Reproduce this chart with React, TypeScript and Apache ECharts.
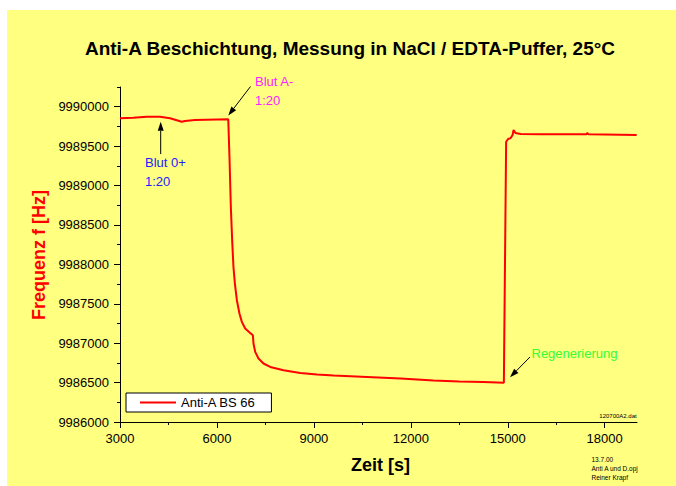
import React, { useEffect, useRef } from "react";
import * as echarts from "echarts";

// ---------- data ----------
const timeS = [
  3000, 3410, 3830, 4240, 4550, 4910, 5010, 5320, 6350, 6388, 6430, 6471,
  6511, 6555, 6617, 6697, 6771, 6874, 7029, 7112, 7131, 7184, 7286, 7441,
  7649, 8061, 8578, 9096, 9611, 10128, 11680, 12700, 13500, 14250, 14880,
  14950, 15010, 15090, 15150, 15180, 15240, 15400, 16020, 17440, 17460,
  17500, 18990,
];
const freqHz = [
  9989853, 9989860, 9989873, 9989873, 9989853, 9989809, 9989818, 9989831,
  9989840, 9989365, 9988730, 9988307, 9987968, 9987757, 9987545, 9987376,
  9987270, 9987186, 9987130, 9987101, 9986996, 9986889, 9986805, 9986742,
  9986698, 9986656, 9986622, 9986602, 9986589, 9986580, 9986551, 9986525,
  9986515, 9986508, 9986497, 9989555, 9989590, 9989602, 9989641, 9989704,
  9989666, 9989653, 9989649, 9989649, 9989666, 9989649, 9989641,
];
const xMajorTicks = [3000, 6000, 9000, 12000, 15000, 18000];
const xMinorTicks = [4500, 7500, 10500, 13500, 16500];
const yMajorTicks = [
  9986000, 9986500, 9987000, 9987500, 9988000, 9988500, 9989000, 9989500,
  9990000,
];
const yMinorTicks = [
  9986250, 9986750, 9987250, 9987750, 9988250, 9988750, 9989250, 9989750,
  9990250,
];
const xRange = [3000, 19000];
const yRange = [9986000, 9990250];

const seriesName = "Anti-A BS 66";
const titleText = "Anti-A Beschichtung, Messung in NaCl / EDTA-Puffer, 25°C";
const xAxisName = "Zeit [s]";
const yAxisName = "Frequenz f [Hz]";
const noteBlut0 = ["Blut 0+", "1:20"];
const noteBlutA = ["Blut A-", "1:20"];
const noteRegen = "Regenerierung";
const fileNote = "120700A2.dat";
const footNotes = ["13.7.00", "Anti A und D.opj", "Reiner Krapf"];

const FONT = '"Liberation Sans", Arial, Helvetica, sans-serif';

function arrow(x1: number, y1: number, x2: number, y2: number) {
  const dx = x2 - x1;
  const dy = y2 - y1;
  const len = Math.sqrt(dx * dx + dy * dy);
  const ux = dx / len;
  const uy = dy / len;
  const headLen = 9;
  const halfW = 3;
  const bx = x2 - ux * headLen;
  const by = y2 - uy * headLen;
  const px = -uy * halfW;
  const py = ux * halfW;
  return [
    {
      type: "line",
      shape: { x1, y1, x2: bx, y2: by },
      style: { stroke: "#000", lineWidth: 1 },
      z: 50,
    },
    {
      type: "polygon",
      shape: {
        points: [
          [x2, y2],
          [bx + px, by + py],
          [bx - px, by - py],
        ],
      },
      style: { fill: "#000" },
      z: 50,
    },
  ];
}

function txt(
  text: string,
  x: number,
  y: number,
  size: number,
  color: string,
  align: string = "left",
  bold = false,
  rotation = 0
) {
  return {
    type: "text",
    x,
    y,
    rotation,
    z: 50,
    style: {
      text,
      fill: color,
      font: `${bold ? "bold " : ""}${size}px ${FONT}`,
      textAlign: align,
      textVerticalAlign: "middle",
    },
  };
}

const plain = (v: number) => String(v);

export default function App() {
  const ref = useRef<HTMLDivElement>(null);

  useEffect(() => {
    if (!ref.current) return;
    const chart = echarts.init(ref.current, undefined, { renderer: "svg" });
    const data = timeS.map((t, i) => [t, freqHz[i]]);

    const axisCommon = {
      type: "value",
      splitLine: { show: false },
      axisLine: { show: false },
    };

    chart.setOption({
      animation: false,
      backgroundColor: "#ffffff",
      textStyle: { fontFamily: FONT },
      grid: { left: 120, right: 39, top: 87, bottom: 64, containLabel: false },
      xAxis: [
        {
          ...axisCommon,
          min: xRange[0],
          max: xRange[1],
          position: "bottom",
          axisLine: {
            show: true,
            onZero: false,
            lineStyle: { color: "#000", width: 1 },
          },
          axisTick: {
            show: true,
            inside: false,
            length: 6,
            customValues: xMajorTicks,
            lineStyle: { color: "#000", width: 1 },
          },
          axisLabel: {
            show: true,
            customValues: xMajorTicks,
            formatter: plain,
            margin: 10,
            fontSize: 13,
            color: "#000",
            fontFamily: FONT,
          },
        },
        {
          ...axisCommon,
          min: xRange[0],
          max: xRange[1],
          position: "bottom",
          offset: 0,
          axisTick: {
            show: true,
            inside: false,
            length: 3,
            customValues: xMinorTicks,
            lineStyle: { color: "#000", width: 1 },
          },
          axisLabel: { show: false },
        },
      ],
      yAxis: [
        {
          ...axisCommon,
          min: yRange[0],
          max: yRange[1],
          position: "left",
          axisLine: {
            show: true,
            onZero: false,
            lineStyle: { color: "#000", width: 1 },
          },
          axisTick: {
            show: true,
            inside: false,
            length: 6,
            customValues: yMajorTicks,
            lineStyle: { color: "#000", width: 1 },
          },
          axisLabel: {
            show: true,
            customValues: yMajorTicks,
            formatter: plain,
            margin: 11,
            fontSize: 13,
            color: "#000",
            fontFamily: FONT,
          },
        },
        {
          ...axisCommon,
          min: yRange[0],
          max: yRange[1],
          position: "left",
          offset: 0,
          axisTick: {
            show: true,
            inside: false,
            length: 3,
            customValues: yMinorTicks,
            lineStyle: { color: "#000", width: 1 },
          },
          axisLabel: { show: false },
        },
      ],
      legend: {
        show: true,
        left: 126,
        top: 393,
        orient: "horizontal",
        padding: [3, 16, 3, 13],
        itemWidth: 36,
        itemHeight: 14,
        backgroundColor: "#ffffff",
        borderColor: "#000",
        borderWidth: 1,
        borderRadius: 0,
        itemStyle: { opacity: 0 },
        lineStyle: { color: "#ff0000", width: 2, opacity: 1 },
        textStyle: { fontSize: 13, color: "#000", fontFamily: FONT },
        data: [seriesName],
      },
      series: [
        {
          name: seriesName,
          type: "line",
          xAxisIndex: 0,
          yAxisIndex: 0,
          data,
          symbol: "none",
          showSymbol: false,
          smooth: false,
          lineStyle: { color: "#ff0000", width: 2 },
          itemStyle: { color: "#ff0000" },
          z: 10,
        },
      ],
      graphic: {
        elements: [
          {
            type: "rect",
            shape: { x: 7, y: 10, width: 669, height: 476 },
            style: { fill: "#ffff80" },
            z: -100,
            silent: true,
          },
          txt(titleText, 350, 48.5, 19, "#000", "center", true),
          txt(xAxisName, 380.5, 465, 18, "#000", "center", true),
          txt(yAxisName, 38.5, 255, 18, "#ff0000", "center", true, Math.PI / 2),
          txt(noteBlut0[0], 145, 162.3, 13, "#2222ff"),
          txt(noteBlut0[1], 145, 181.5, 13, "#2222ff"),
          txt(noteBlutA[0], 255, 81, 13, "#ff22ff"),
          txt(noteBlutA[1], 255, 100, 13, "#ff22ff"),
          txt(noteRegen, 531.5, 353.7, 13, "#33ff33"),
          txt(fileNote, 636.7, 415.5, 6, "#000", "right"),
          txt(footNotes[0], 591.5, 459, 6.5, "#000"),
          txt(footNotes[1], 591.5, 468, 6.5, "#000"),
          txt(footNotes[2], 591.5, 477, 6.5, "#000"),
          ...arrow(160.7, 154, 160.7, 121.7),
          ...arrow(250.5, 86.5, 228.3, 115.5),
          ...arrow(530, 357, 510, 377.3),
        ],
      },
    });

    return () => chart.dispose();
  }, []);

  return (
    <div
      ref={ref}
      style={{ position: "absolute", left: 0, top: 0, width: 676, height: 486 }}
    />
  );
}
